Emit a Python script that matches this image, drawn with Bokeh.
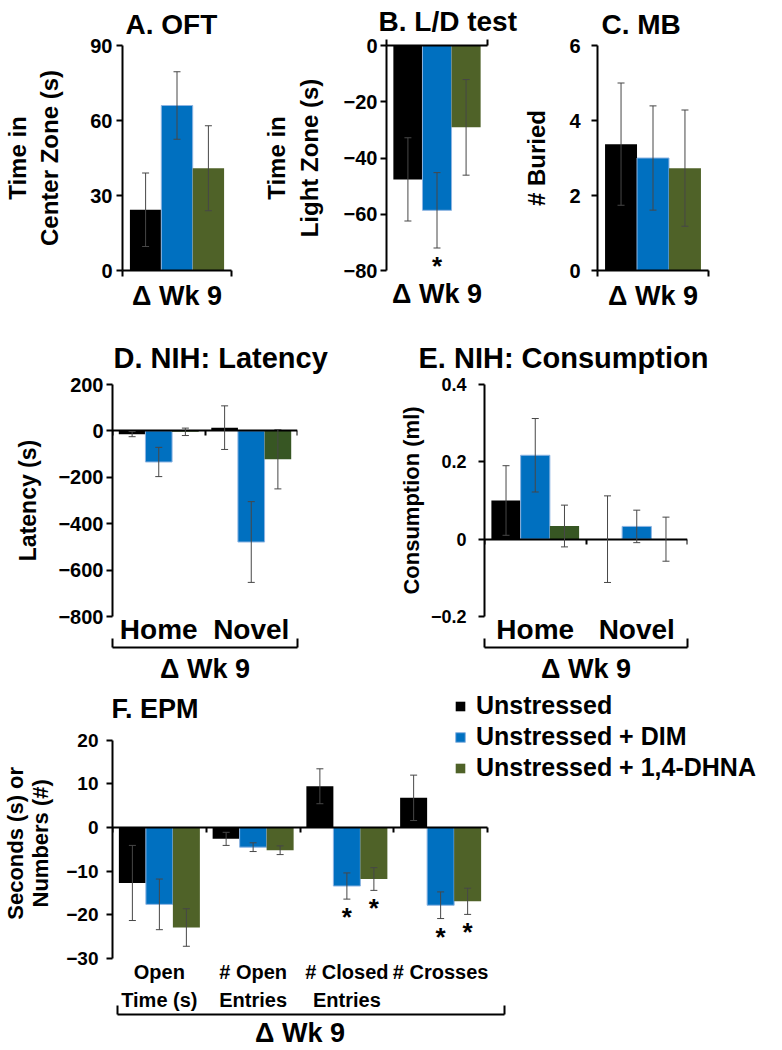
from bokeh.plotting import figure
from bokeh.models import (Range1d, LinearAxis, FixedTicker, Whisker, TeeHead,
                          ColumnDataSource, Legend, LegendItem, Label)
from bokeh.layouts import column, row
from bokeh.embed import file_html
from bokeh.resources import INLINE
from bokeh.core.properties import value

FONT = "Liberation Sans"

# ---------------- data ----------------
groups = ["Unstressed", "Unstressed + DIM", "Unstressed + 1,4-DHNA"]
colors = ["#000000", "#0070C0", "#4F6228"]
colors_nih = ["#000000", "#0070C0", "#375623"]
edge_colors = [None, "#8DB4E2", None]
week_label = "\u0394 Wk 9"

# A. OFT - time in center zone (s)
oft_mean = [[24.3], [66.0], [40.9]]
oft_sem = [[14.7], [13.5], [17.0]]
oft_sig = [[0], [0], [0]]
oft_ticks = [0, 30, 60, 90]

# B. L/D test - time in light zone (s)
ld_mean = [[-47.6], [-58.6], [-29.1]]
ld_sem = [[14.8], [13.4], [17.0]]
ld_sig = [[0], [1], [0]]
ld_ticks = [-80, -60, -40, -20, 0]

# C. MB - number buried
mb_mean = [[3.37], [3.0], [2.73]]
mb_sem = [[1.63], [1.39], [1.55]]
mb_sig = [[0], [0], [0]]
mb_ticks = [0, 2, 4, 6]

# D/E. NIH
nih_cats = ["Home", "Novel"]
lat_mean = [[-14, 14], [-134, -479], [-4, -122]]
lat_sem = [[11, 94], [63, 174], [16, 128]]
lat_sig = [[0, 0], [0, 0], [0, 0]]
lat_ticks = [-800, -600, -400, -200, 0, 200]

cons_mean = [[0.10, 0.0], [0.217, 0.033], [0.034, 0.0]]
cons_sem = [[0.09, 0.112], [0.095, 0.042], [0.054, 0.057]]
cons_sig = [[0, 0], [0, 0], [0, 0]]
cons_ticks = [-0.2, 0, 0.2, 0.4]

# F. EPM
epm_cats = ["Open\nTime (s)", "# Open\nEntries", "# Closed\nEntries", "# Crosses"]
epm_mean = [[-12.7, -2.6, 9.45, 6.8], [-17.6, -4.5, -13.4, -17.8], [-22.9, -5.2, -11.8, -16.9]]
epm_sem = [[8.6, 1.5, 4.0, 5.2], [5.8, 1.0, 3.0, 3.05], [4.3, 1.0, 2.6, 3.0]]
epm_sig = [[0, 0, 0, 0], [0, 0, 1, 1], [0, 0, 1, 1]]
epm_ticks = [-30, -20, -10, 0, 10, 20]

BAR_W = 0.288
ERR_COLOR = "#474747"
PAD = "\u00a0" * 6   # keeps the F axis title centred on the -30..20 span


def bold(obj, prefix, size, font=FONT):
    setattr(obj, prefix + "_text_font", font)
    setattr(obj, prefix + "_text_font_style", "bold")
    setattr(obj, prefix + "_text_font_size", size)
    setattr(obj, prefix + "_text_color", "black")


def style_fig(p):
    p.outline_line_color = None
    p.background_fill_color = "white"
    p.border_fill_color = "white"


def make_fig(w, h, left, right, top, bottom, ncat, yr, title, title_offset=0,
             title_size="28px", title_standoff=10):
    p = figure(width=w, height=h, x_range=Range1d(-0.5, ncat - 0.5), y_range=Range1d(*yr),
               output_backend="svg", toolbar_location=None,
               x_axis_type=None, y_axis_type=None,
               min_border_left=left, min_border_right=right,
               min_border_top=top, min_border_bottom=bottom)
    style_fig(p)
    p.title.text = title
    p.title.align = "left"
    p.title.text_font = FONT
    p.title.text_font_style = "bold"
    p.title.text_font_size = title_size
    p.title.text_color = "black"
    p.title.standoff = title_standoff
    p.title.offset = title_offset
    return p


def add_yaxis(p, ticks, label, label_size, tick_size, standoff, label_standoff,
              overrides=None, bounds=None, line_height=1.2):
    ax = LinearAxis(ticker=FixedTicker(ticks=ticks), axis_label=label)
    if bounds is not None:
        ax.bounds = bounds
    ax.axis_line_width = 2
    ax.axis_line_color = "black"
    ax.major_tick_line_width = 2
    ax.major_tick_out = 6
    ax.major_tick_in = 0
    ax.minor_tick_line_color = None
    ax.major_label_standoff = standoff
    ax.axis_label_standoff = label_standoff
    ax.axis_label_text_line_height = line_height
    bold(ax, "major_label", tick_size)
    bold(ax, "axis_label", label_size)
    if overrides:
        ax.major_label_overrides = overrides
    p.add_layout(ax, "left")


def add_bars(p, means, sems, sigs, cols):
    rends = []
    for k, (m, s, sg, c) in enumerate(zip(means, sems, sigs, cols)):
        xs = [i + (k - 1) * BAR_W for i in range(len(m))]
        up = [a + b for a, b in zip(m, s)]
        lo = [a - b for a, b in zip(m, s)]
        src = ColumnDataSource(dict(x=xs, top=m, upper=up, lower=lo))
        r = p.vbar(x="x", top="top", bottom=0, width=BAR_W, source=src,
                   fill_color=c, line_color=edge_colors[k], line_width=1)
        rends.append(r)
        wh = Whisker(source=src, base="x", upper="upper", lower="lower", level="overlay",
                     line_color=ERR_COLOR, line_width=1,
                     upper_head=TeeHead(size=7, line_color=ERR_COLOR, line_width=1),
                     lower_head=TeeHead(size=7, line_color=ERR_COLOR, line_width=1))
        p.add_layout(wh)
        sx = [x for x, f in zip(xs, sg) if f]
        sy = [y for y, f in zip(lo, sg) if f]
        if sx:
            p.text(x=sx, y=sy, text=["*"] * len(sx), text_align="center", text_baseline="top",
                   y_offset=3, text_font=value(FONT), text_font_style="bold",
                   text_font_size="26px", text_color="black")
    return rends


def blank_axis(ticks, fixed=None, bounds=None):
    ax = LinearAxis(ticker=FixedTicker(ticks=ticks))
    if fixed is not None:
        ax.fixed_location = fixed
    if bounds is not None:
        ax.bounds = bounds
    ax.major_label_overrides = {t: "" for t in ticks}
    ax.major_label_text_font_size = "0px"
    ax.major_label_standoff = 0
    ax.axis_line_width = 2
    ax.axis_line_color = "black"
    ax.major_tick_line_width = 2
    ax.minor_tick_line_color = None
    return ax


def add_week_axis(p, n, line=True, tick_out=6, tick_in=0, label_standoff=4, size="27px"):
    ax = blank_axis([-0.5, n - 0.5])
    ax.axis_label = week_label
    ax.axis_label_standoff = label_standoff
    bold(ax, "axis_label", size)
    ax.major_tick_out = tick_out
    ax.major_tick_in = tick_in
    if not line:
        ax.axis_line_color = None
        ax.major_tick_line_color = None
    p.add_layout(ax, "below")
    return ax


def add_cat_axis(p, cats, size, standoff, line_height=1.2):
    ticks = list(range(len(cats)))
    ax = LinearAxis(ticker=FixedTicker(ticks=ticks),
                    major_label_overrides={i: c for i, c in enumerate(cats)})
    ax.axis_line_color = None
    ax.major_tick_line_color = None
    ax.major_tick_out = 0
    ax.major_tick_in = 0
    ax.minor_tick_line_color = None
    ax.major_label_standoff = standoff
    ax.major_label_text_line_height = line_height
    bold(ax, "major_label", size)
    p.add_layout(ax, "below")


def add_bracket(p, ends):
    ax = blank_axis(list(ends), bounds=tuple(ends))
    ax.major_tick_out = 0
    ax.major_tick_in = 9
    p.add_layout(ax, "below")


def add_group_axis(p, center, label, size, standoff):
    ax = LinearAxis(ticker=FixedTicker(ticks=[center]),
                    major_label_overrides={center: label})
    ax.axis_line_color = None
    ax.major_tick_line_color = None
    ax.major_tick_out = 0
    ax.major_tick_in = 0
    ax.minor_tick_line_color = None
    ax.major_label_standoff = standoff
    bold(ax, "major_label", size)
    p.add_layout(ax, "below")


def add_zero_axis(p, n):
    # axis drawn at y = 0, category-boundary ticks pointing down
    ax = blank_axis([i - 0.5 for i in range(n + 1)], fixed=0, bounds=(-0.5, n - 0.5))
    ax.major_tick_out = 0
    ax.major_tick_in = 5
    p.add_layout(ax, "above")


# ---------------- row 1 ----------------
H1 = 320
pA = make_fig(260, H1, 110, 29, 40, H1 - 273, 1, (0, 90), "A. OFT", title_offset=3, title_standoff=12)
add_yaxis(pA, oft_ticks, "Time in\nCenter Zone (s)", "24px", "20px", 4, 24)
add_bars(pA, oft_mean, oft_sem, oft_sig, colors)
add_week_axis(pA, 1)

pB = make_fig(260, H1, 108, 33, 38, H1 - 270, 1, (-80, 0), "B. L/D test", title_offset=-8, title_standoff=5)
add_yaxis(pB, ld_ticks, "Time in\nLight Zone (s)", "24px", "20px", 3, 18)
add_bars(pB, ld_mean, ld_sem, ld_sig, colors)
top_ax = blank_axis([-0.5, 0.5])
top_ax.major_tick_out = 6
top_ax.major_tick_in = 0
pB.add_layout(top_ax, "above")
add_week_axis(pB, 1, line=False, tick_out=0, label_standoff=8)

pC = make_fig(246, H1, 68, 58, 40, H1 - 273, 1, (0, 6), "C. MB", title_offset=4, title_standoff=12)
add_yaxis(pC, mb_ticks, "# Buried", "24px", "20px", 11, 16)
add_bars(pC, mb_mean, mb_sem, mb_sig, colors)
add_week_axis(pC, 1)

# ---------------- row 2 ----------------
H2 = 370
R2_TOP = 64
R2_BOTTOM = H2 - (R2_TOP + 232)
pD = make_fig(372, H2, 112, 75, R2_TOP, R2_BOTTOM, 2, (-800, 200), "D. NIH: Latency",
              title_offset=1, title_standoff=22, title_size="29px")
add_yaxis(pD, lat_ticks, "Latency (s)", "23px", "20px", 3, 14)
add_bars(pD, lat_mean, lat_sem, lat_sig, colors_nih)
add_cat_axis(pD, nih_cats, "28px", -3)
add_bracket(pD, (-0.5, 1.5))
add_group_axis(pD, 0.5, week_label, "27px", 6)
add_zero_axis(pD, 2)

pE = make_fig(394, H2, 112, 79, R2_TOP, R2_BOTTOM, 2, (-0.2, 0.4), "E. NIH: Consumption",
              title_offset=-66, title_standoff=22, title_size="29px")
add_yaxis(pE, cons_ticks, "Consumption (ml)", "22px", "18px", 12, 4, overrides={0: "0"})
add_bars(pE, cons_mean, cons_sem, cons_sig, colors_nih)
add_cat_axis(pE, nih_cats, "28px", -3)
add_bracket(pE, (-0.5, 1.5))
add_group_axis(pE, 0.5, week_label, "27px", 6)
add_zero_axis(pE, 2)

# ---------------- row 3 ----------------
F_FRAME_W = 658          # frame reaches the right edge so the legend is not clipped
F_FRAME_H = 267
F_CAT_PX = 93.75         # pixels per category
F_PX_PER_UNIT = 4.366    # pixels per y unit
pF = figure(frame_width=F_FRAME_W, frame_height=F_FRAME_H,
            x_range=Range1d(-0.5, -0.5 + F_FRAME_W / F_CAT_PX),
            y_range=Range1d(-30, -30 + F_FRAME_H / F_PX_PER_UNIT),
            output_backend="svg", toolbar_location=None,
            x_axis_type=None, y_axis_type=None,
            min_border_left=108, min_border_right=0, min_border_top=1, min_border_bottom=0)
style_fig(pF)
add_yaxis(pF, epm_ticks, "Seconds (s) or" + PAD + "\nNumbers (#)" + PAD, "22px", "19px", 8, 10,
          bounds=(-30, 20), line_height=1.0)
rends = add_bars(pF, epm_mean, epm_sem, epm_sig, colors)
add_cat_axis(pF, epm_cats, "20px", 2, line_height=1.3)
add_bracket(pF, (-0.45, 3.68))
add_group_axis(pF, 1.5, week_label, "27px", 3)
add_zero_axis(pF, 4)

pF.add_layout(Label(x=-1, y=F_FRAME_H - 17, x_units="screen", y_units="screen", text="F. EPM",
                    text_align="left", text_baseline="alphabetic", text_font=FONT,
                    text_font_style="bold", text_font_size="27px", text_color="black"))

legend = Legend(items=[LegendItem(label=g, renderers=[r]) for g, r in zip(groups, rends)],
                location=(342, F_FRAME_H - 91))
legend.border_line_color = None
legend.background_fill_alpha = 0
legend.padding = 0
legend.margin = 0
legend.spacing = 2
legend.glyph_width = 12
legend.glyph_height = 12
legend.label_standoff = 10
legend.label_height = 29
bold(legend, "label", "25px")
pF.add_layout(legend)

layout = column(row(pA, pB, pC), row(pD, pE), pF)

with open("out.html", "w") as f:
    f.write(file_html(layout, INLINE))
